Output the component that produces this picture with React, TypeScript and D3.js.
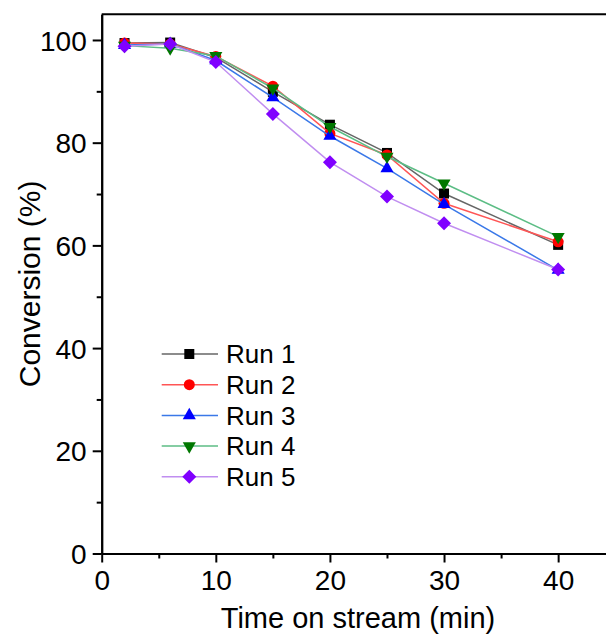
import React, { useEffect, useRef } from 'react';
import * as d3 from 'd3';

// time on stream (min)
const times = [2, 6, 10, 15, 20, 25, 30, 40];

// conversion (%) per run
const run1 = [99.4, 99.5, 96.6, 89.9, 83.5, 78.0, 70.1, 60.1];
const run2 = [99.4, 99.2, 96.8, 91.0, 81.8, 77.6, 68.2, 60.7];
const run3 = [99.0, 99.2, 96.0, 88.8, 81.3, 75.0, 68.0, 55.2];
const run4 = [98.9, 98.4, 96.9, 90.6, 83.1, 77.3, 72.1, 61.7];
const run5 = [98.8, 99.2, 95.7, 85.6, 76.2, 69.5, 64.3, 55.3];

const runNames = ['Run 1', 'Run 2', 'Run 3', 'Run 4', 'Run 5'];

const xMajor = [0, 10, 20, 30, 40];
const xMinor = [5, 15, 25, 35];
const yMajor = [0, 20, 40, 60, 80, 100];
const yMinor = [10, 30, 50, 70, 90];

const W = 606;
const H = 638;

const drawChart = (node: SVGSVGElement) => {
    const svg = d3.select(node);
    svg.selectAll('*').remove();

    const font = '"Liberation Sans", Arial, sans-serif';
    const left = 101.7, right = 615.2, top = 14.3, bottom = 553.5;

    const x = d3.scaleLinear().domain([0, 45]).range([left, right]);
    const y = d3.scaleLinear().domain([0, 105]).range([bottom, top]);

    const series = [
        { name: runNames[0], values: run1, fill: '#000000', line: '#666666', shape: 'square' },
        { name: runNames[1], values: run2, fill: '#ff0000', line: '#ff5555', shape: 'circle' },
        { name: runNames[2], values: run3, fill: '#0000ff', line: '#3a78e8', shape: 'triangle' },
        { name: runNames[3], values: run4, fill: '#007700', line: '#5cbd85', shape: 'down' },
        { name: runNames[4], values: run5, fill: '#8000ff', line: '#c08ef0', shape: 'diamond' },
    ];

    const symbolPath = (shape: string) => {
        if (shape === 'square') return d3.symbol().type(d3.symbolSquare).size(100)();
        if (shape === 'circle') return d3.symbol().type(d3.symbolCircle).size(95)();
        if (shape === 'diamond') return d3.symbol().type(d3.symbolSquare).size(98)();
        return d3.symbol().type(d3.symbolTriangle).size(74)();
    };
    const rot = (shape: string) => (shape === 'down' ? ' rotate(180)' : shape === 'diamond' ? ' rotate(45)' : '');

    // lines and markers
    series.forEach((s) => {
        const pts = s.values.map((v, i) => ({ t: times[i], v }));
        svg.append('path')
            .datum(pts)
            .attr('fill', 'none')
            .attr('stroke', s.line)
            .attr('stroke-width', 1.5)
            .attr('d', d3.line<{ t: number; v: number }>()
                .x((d) => x(d.t))
                .y((d) => y(d.v)));

        svg.append('g')
            .selectAll('path')
            .data(pts)
            .enter().append('path')
            .attr('d', symbolPath(s.shape))
            .attr('transform', (d) => `translate(${x(d.t)},${y(d.v)})${rot(s.shape)}`)
            .attr('fill', s.fill);
    });

    // x axis
    const gx = svg.append('g').attr('transform', `translate(0,${bottom})`);
    gx.call(d3.axisBottom(x).tickValues(xMajor).tickSize(9).tickSizeOuter(0));
    gx.append('g').call(d3.axisBottom(x).tickValues(xMinor).tickSize(5).tickFormat(() => '').tickSizeOuter(0));
    gx.selectAll('text').attr('dy', 0).attr('y', 36);

    // y axis
    const gy = svg.append('g').attr('transform', `translate(${left},0)`);
    gy.call(d3.axisLeft(y).tickValues(yMajor).tickSize(9).tickSizeOuter(0));
    gy.append('g').call(d3.axisLeft(y).tickValues(yMinor).tickSize(5).tickFormat(() => '').tickSizeOuter(0));
    gy.selectAll('text').attr('x', -15).attr('dy', '0.36em');

    svg.selectAll('.domain').attr('stroke', '#000').attr('stroke-width', 2);
    svg.selectAll('.tick line').attr('stroke', '#000').attr('stroke-width', 2);
    svg.selectAll('.tick text')
        .style('font-family', font)
        .style('font-size', '28px')
        .attr('fill', '#000');

    // top spine
    svg.append('line')
        .attr('x1', left).attr('x2', right)
        .attr('y1', top).attr('y2', top)
        .attr('stroke', '#000').attr('stroke-width', 2);

    // axis titles
    svg.append('text')
        .attr('x', 358).attr('y', 628)
        .attr('text-anchor', 'middle')
        .style('font-family', font).style('font-size', '29px')
        .text('Time on stream (min)');

    svg.append('text')
        .attr('transform', `translate(40,${(top + bottom) / 2}) rotate(-90)`)
        .attr('text-anchor', 'middle')
        .style('font-family', font).style('font-size', '30px')
        .text('Conversion (%)');

    // legend
    const lg = svg.append('g');
    series.forEach((s, i) => {
        const ly = 354 + i * 30.7;
        lg.append('line')
            .attr('x1', 161.7).attr('x2', 218)
            .attr('y1', ly).attr('y2', ly)
            .attr('stroke', s.line).attr('stroke-width', 1.5);
        lg.append('path')
            .attr('d', symbolPath(s.shape))
            .attr('transform', `translate(189.3,${ly})${rot(s.shape)}`)
            .attr('fill', s.fill);
        lg.append('text')
            .attr('x', 226).attr('y', ly)
            .attr('dy', '0.36em')
            .style('font-family', font).style('font-size', '26px')
            .text(s.name);
    });
};

const App = () => {
    const ref = useRef<SVGSVGElement>(null);

    useEffect(() => {
        if (ref.current) drawChart(ref.current);
    }, []);

    return (
        <svg
            ref={ref}
            width={W}
            height={H}
            style={{ position: 'absolute', left: 0, top: 0, background: '#fff' }}
        />
    );
};

export default App;
